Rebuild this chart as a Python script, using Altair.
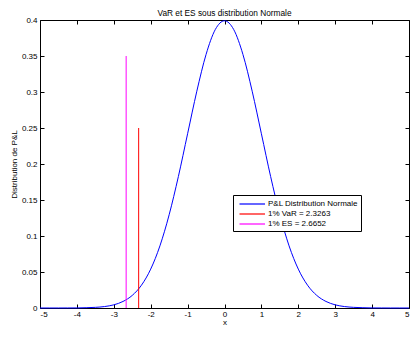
import altair as alt
import pandas as pd

# ---- data ----
x_vals = [-5.0, -4.75, -4.5, -4.25, -4.0, -3.75, -3.5, -3.25, -3.0, -2.75,
          -2.5, -2.25, -2.0, -1.75, -1.5, -1.25, -1.0, -0.75, -0.5, -0.25,
          0.0, 0.25, 0.5, 0.75, 1.0, 1.25, 1.5, 1.75, 2.0, 2.25,
          2.5, 2.75, 3.0, 3.25, 3.5, 3.75, 4.0, 4.25, 4.5, 4.75, 5.0]
pdf_vals = [0.0000015, 0.000005, 0.00002, 0.00005, 0.0001, 0.0004, 0.0009, 0.0020, 0.0044, 0.0091,
            0.0175, 0.0317, 0.0540, 0.0863, 0.1295, 0.1826, 0.2420, 0.3011, 0.3521, 0.3867,
            0.3989, 0.3867, 0.3521, 0.3011, 0.2420, 0.1826, 0.1295, 0.0863, 0.0540, 0.0317,
            0.0175, 0.0091, 0.0044, 0.0020, 0.0009, 0.0004, 0.0001, 0.00005, 0.00002, 0.000005, 0.0000015]

series_names = ["P&L Distribution Normale", "1% VaR = 2.3263", "1% ES = 2.6652"]
series_colors = ["#0000ff", "#ff0000", "#ff00ff"]

rule_x = [-2.3263, -2.6652]
rule_bottom = [0.0, 0.0]
rule_top = [0.25, 0.35]

x_ticks = [-5, -4, -3, -2, -1, 0, 1, 2, 3, 4, 5]
y_ticks = [0, 0.05, 0.1, 0.15, 0.2, 0.25, 0.3, 0.35, 0.4]

curve_df = pd.DataFrame({"x": x_vals, "p": pdf_vals, "series": series_names[0]})
rule_df = pd.DataFrame({"x": rule_x, "y0": rule_bottom, "y1": rule_top,
                        "series": series_names[1:]})

FONT = "Liberation Sans"

xscale = alt.Scale(domain=[-5, 5], nice=False, zero=False)
yscale = alt.Scale(domain=[0, 0.4], nice=False)
color = alt.Color(
    "series:N",
    scale=alt.Scale(domain=series_names, range=series_colors),
    legend=alt.Legend(
        title=None, orient="none", legendX=193, legendY=175,
        symbolType="M-0.5,0H4.6", symbolSize=100, symbolStrokeWidth=1.2,
        symbolFillColor="transparent",
        labelFontSize=8, labelFont=FONT, labelColor="black",
        fillColor="white", strokeColor="black", padding=3,
        rowPadding=0, labelOffset=20,
    ),
)

curve = alt.Chart(curve_df).mark_line(strokeWidth=1, interpolate="monotone").encode(
    x=alt.X("x:Q", scale=xscale, axis=alt.Axis(
        orient="bottom", values=x_ticks, tickSize=4, offset=-4, domain=False,
        grid=False, labelPadding=2, title="x", titlePadding=0,
        labelExpr="datum.value + ''")),
    y=alt.Y("p:Q", scale=yscale, axis=alt.Axis(
        orient="left", values=y_ticks, tickSize=4, offset=-4, domain=False,
        grid=False, labelPadding=3, title="Distribution de P&L", titlePadding=3,
        labelExpr="format(datum.value, '.2~f')")),
    color=color,
)

rules = alt.Chart(rule_df).mark_rule(strokeWidth=1).encode(
    x=alt.X("x:Q", scale=xscale, axis=alt.Axis(
        orient="top", values=x_ticks, tickSize=4, offset=-4, domain=False,
        grid=False, labels=False, title=None)),
    y=alt.Y("y0:Q", scale=yscale, axis=alt.Axis(
        orient="right", values=y_ticks, tickSize=4, offset=-4, domain=False,
        grid=False, labels=False, title=None)),
    y2="y1:Q",
    color=color,
)

chart = alt.layer(curve, rules).resolve_axis(
    x="independent", y="independent"
).properties(
    width=369, height=288,
    autosize=alt.AutoSizeParams(type="none"),
    padding={"left": 32, "top": 12, "right": 1, "bottom": 19},
    title=alt.TitleParams("VaR et ES sous distribution Normale", fontSize=8.3,
                          fontWeight="normal", font=FONT, color="black",
                          offset=-1, anchor="middle"),
).configure_view(
    stroke="black", strokeWidth=1
).configure_axis(
    labelFont=FONT, labelFontSize=8, labelColor="black",
    titleFont=FONT, titleFontSize=8, titleFontWeight="normal", titleColor="black",
    tickColor="black", tickWidth=1,
)

chart.save("out.html", embed_options={"renderer": "svg", "actions": False})
